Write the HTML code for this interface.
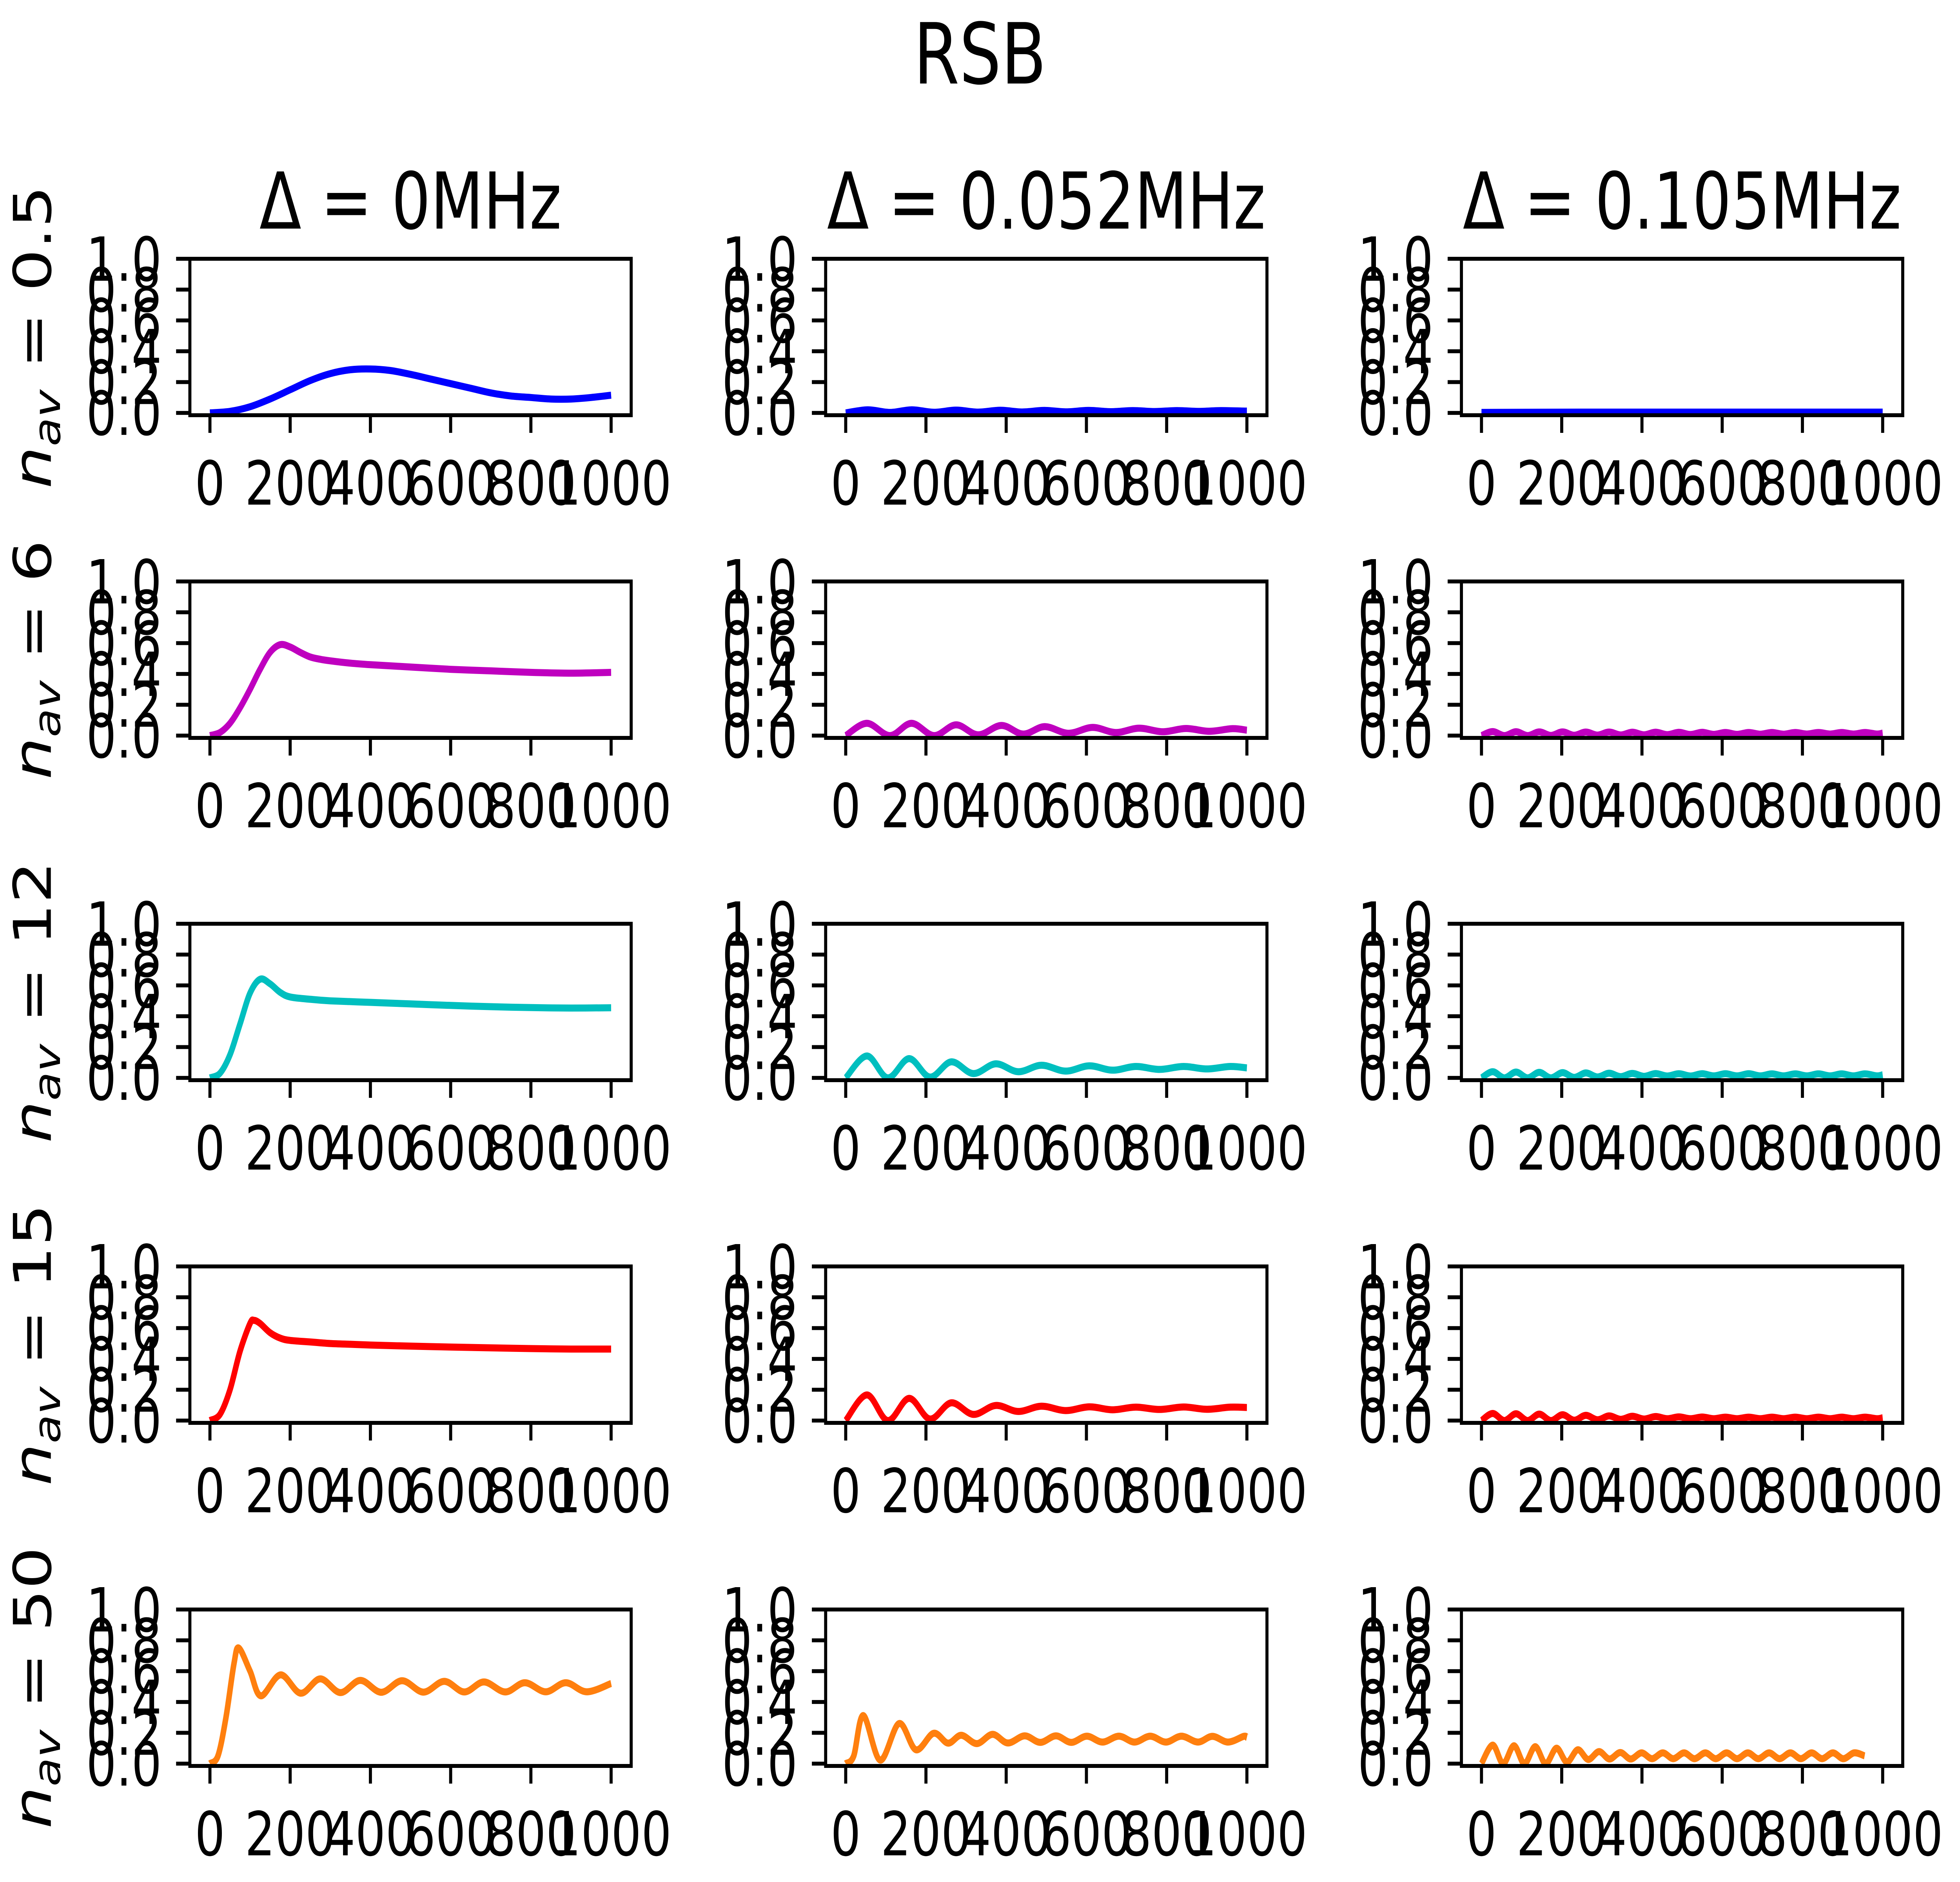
<!DOCTYPE html>
<html>
<head>
<meta charset="utf-8">
<style>
  html, body { margin: 0; padding: 0; background: #ffffff; overflow: hidden; width: 100%; height: 100%; }
  svg { display: block; width: 100vw; height: 100vh; }
  text { font-family: "DejaVu Sans", "Liberation Sans", sans-serif; fill: #000; }
</style>
</head>
<body>
<svg id="fig" xmlns="http://www.w3.org/2000/svg" viewBox="0 0 6400 4800" preserveAspectRatio="none">
  <rect x="0" y="0" width="6400" height="4800" fill="#ffffff"/>
  <text x="3200" y="213" font-size="215" text-anchor="middle">RSB</text>
  <g id="panels"></g>
</svg>
<script>
// ---- chart data ----
const xTicks = [0, 200, 400, 600, 800, 1000];
const xTickLabels = ["0", "200", "400", "600", "800", "1000"];
const yTicks = [0, 0.2, 0.4, 0.6, 0.8, 1.0];
const yTickLabels = ["0.0", "0.2", "0.4", "0.6", "0.8", "1.0"];
const colTitles = ["0MHz", "0.052MHz", "0.105MHz"];
const rowLabels = ["0.5", "6", "12", "15", "50"];
const rowColors = ["#0000ff", "#bf00bf", "#00bfbf", "#ff0000", "#ff7f0e"];

// row 1 (n_av = 0.5)
const r1c1X = [0,50,100,150,200,250,300,350,400,450,500,550,600,650,700,750,800,850,900,950,1000];
const r1c1Y = [0,0.01,0.04,0.09,0.15,0.21,0.255,0.28,0.285,0.275,0.25,0.22,0.19,0.16,0.13,0.11,0.10,0.09,0.09,0.10,0.115];
const r1c2X = [0,55,110,165,220,275,330,385,440,495,550,605,660,715,770,825,880,935,990,1000];
const r1c2Y = [0,0.02,0.003,0.02,0.004,0.018,0.005,0.017,0.006,0.016,0.007,0.016,0.008,0.015,0.009,0.015,0.01,0.015,0.012,0.012];
const r1c3X = [0,250,500,750,1000];
const r1c3Y = [0.003,0.005,0.005,0.005,0.005];

// row 2 (n_av = 6)
const r2c1X = [0,25,50,75,100,125,150,175,200,225,250,275,300,350,400,500,600,700,800,900,1000];
const r2c1Y = [0,0.02,0.08,0.18,0.30,0.43,0.54,0.59,0.575,0.54,0.51,0.495,0.485,0.47,0.46,0.445,0.43,0.42,0.41,0.405,0.41];
const r2c2X = [0,53,110,164,220,275,330,388,442,496,555,615,673,731,790,848,906,964,1000];
const r2c2Y = [0,0.08,0.0,0.08,0.0,0.07,0.005,0.066,0.01,0.058,0.015,0.053,0.02,0.048,0.025,0.046,0.028,0.045,0.035];
const r2c3X = [0,28,57,86,115,144,173,202,231,260,289,318,347,376,405,434,463,492,521,550,579,608,637,666,695,724,753,782,811,840,869,898,927,956,985,1000];
const r2c3Y = [0,0.026, 0,0.025, 0,0.024, 0.001,0.024, 0.002,0.023, 0.003,0.023, 0.004,0.022, 0.005,0.022, 0.006,0.021, 0.007,0.021, 0.008,0.02, 0.008,0.02, 0.009,0.02, 0.009,0.02, 0.01,0.02, 0.01,0.02, 0.01,0.02, 0.01,0.016];

// row 3 (n_av = 12)
const r3c1X = [0,25,50,75,100,125,150,175,200,250,300,400,500,600,700,800,900,1000];
const r3c1Y = [0,0.03,0.15,0.35,0.55,0.64,0.61,0.555,0.525,0.51,0.50,0.49,0.48,0.47,0.462,0.456,0.453,0.455];
const r3c2X = [0,53,105,158,210,263,318,374,430,488,548,607,665,723,782,842,900,958,1000];
const r3c2Y = [0,0.142,0.0,0.125,0.005,0.104,0.028,0.091,0.04,0.082,0.044,0.078,0.05,0.074,0.055,0.074,0.058,0.074,0.065];
const r3c3X = [0,28,57,86,115,144,173,202,231,260,289,318,347,376,405,434,463,492,521,550,579,608,637,666,695,724,753,782,811,840,869,898,927,956,985,1000];
const r3c3Y = [0,0.04, 0,0.038, 0,0.036, 0,0.034, 0.003,0.032, 0.006,0.03, 0.008,0.029, 0.01,0.028, 0.012,0.027, 0.012,0.027, 0.013,0.027, 0.013,0.027, 0.013,0.026, 0.013,0.026, 0.013,0.026, 0.013,0.026, 0.013,0.026, 0.013,0.02];

// row 4 (n_av = 15)
const r4c1X = [0,25,50,75,100,110,125,150,175,200,250,300,350,400,500,600,700,800,900,1000];
const r4c1Y = [0,0.04,0.2,0.45,0.63,0.65,0.63,0.57,0.535,0.52,0.51,0.50,0.495,0.49,0.483,0.477,0.472,0.467,0.464,0.464];
const r4c2X = [0,53,105,158,210,263,318,374,430,488,548,607,665,723,782,842,900,958,1000];
const r4c2Y = [0,0.166,0.0,0.144,0.01,0.115,0.04,0.098,0.059,0.093,0.065,0.089,0.07,0.087,0.072,0.088,0.073,0.087,0.085];
const r4c3X = [0,28,57,86,115,144,173,202,231,260,289,318,347,376,405,434,463,492,521,550,579,608,637,666,695,724,753,782,811,840,869,898,927,956,985,1000];
const r4c3Y = [0,0.046, 0,0.044, 0,0.042, 0,0.038, 0.002,0.034, 0.005,0.03, 0.008,0.028, 0.01,0.026, 0.012,0.024, 0.012,0.023, 0.012,0.022, 0.012,0.022, 0.012,0.022, 0.012,0.022, 0.012,0.022, 0.012,0.022, 0.012,0.022, 0.012,0.018];

// row 5 (n_av = 50)
const r5c1X = [0,20,40,60,72,100,127,176,226,275,325,375,427,479,532,584,634,683,736,785,837,887,939,1000];
const r5c1Y = [0,0.05,0.3,0.65,0.75,0.6,0.44,0.576,0.457,0.55,0.461,0.54,0.463,0.538,0.464,0.534,0.465,0.53,0.465,0.525,0.466,0.525,0.466,0.52];
const r5c2X = [0,20,44,86,133,175,219,255,288,327,366,404,446,485,524,562,601,640,681,720,759,798,837,878,914,953,992,1000];
const r5c2Y = [0,0.05,0.312,0.023,0.26,0.09,0.197,0.133,0.184,0.13,0.19,0.134,0.18,0.138,0.18,0.138,0.178,0.14,0.178,0.14,0.178,0.14,0.178,0.14,0.177,0.14,0.177,0.17];
const r5c3X = [0,28,54,81,107,134,160,187,213,240,266,293,319,346,372,399,425,452,478,505,531,558,584,611,637,664,690,717,743,770,796,823,849,876,902,929,955,982,1000];
const r5c3Y = [0,0.12, 0,0.116, 0,0.11, 0,0.10, 0.01,0.09, 0.027,0.078, 0.03,0.072, 0.03,0.07, 0.032,0.07, 0.032,0.07, 0.032,0.07, 0.032,0.07, 0.032,0.07, 0.032,0.07, 0.032,0.07, 0.032,0.07, 0.032,0.07, 0.032,0.07, 0.05];

const seriesX = [[r1c1X,r1c2X,r1c3X],[r2c1X,r2c2X,r2c3X],[r3c1X,r3c2X,r3c3X],[r4c1X,r4c2X,r4c3X],[r5c1X,r5c2X,r5c3X]];
const seriesY = [[r1c1Y,r1c2Y,r1c3Y],[r2c1Y,r2c2Y,r2c3Y],[r3c1Y,r3c2Y,r3c3Y],[r4c1Y,r4c2Y,r4c3Y],[r5c1Y,r5c2Y,r5c3Y]];

// ---- layout ----
const NS = "http://www.w3.org/2000/svg";
const rowTops = [660, 1483, 2356, 3230, 4105];
const colLefts = [620, 2696, 4772];
const AX_W = 1441, AX_H = 399;
const X_MIN = -50, X_MAX = 1050, Y_MIN = -0.015, Y_MAX = 1.0;

function xScale(left, v) { return left + (v - X_MIN) / (X_MAX - X_MIN) * AX_W; }
function yScale(top, v) { return top + (Y_MAX - v) / (Y_MAX - Y_MIN) * AX_H; }

function mk(tag, attrs) {
  const e = document.createElementNS(NS, tag);
  for (const k in attrs) e.setAttribute(k, attrs[k]);
  return e;
}

function smoothPath(pts) {
  if (pts.length < 2) return "";
  let d = "M" + pts[0][0].toFixed(1) + "," + pts[0][1].toFixed(1);
  for (let i = 0; i < pts.length - 1; i++) {
    const p0 = pts[i - 1] || pts[i], p1 = pts[i], p2 = pts[i + 1], p3 = pts[i + 2] || pts[i + 1];
    const c1x = p1[0] + (p2[0] - p0[0]) / 6, c1y = p1[1] + (p2[1] - p0[1]) / 6;
    const c2x = p2[0] - (p3[0] - p1[0]) / 6, c2y = p2[1] - (p3[1] - p1[1]) / 6;
    d += " C" + c1x.toFixed(1) + "," + c1y.toFixed(1) + " " + c2x.toFixed(1) + "," + c2y.toFixed(1) + " " + p2[0].toFixed(1) + "," + p2[1].toFixed(1);
  }
  return d;
}

const root = document.getElementById("panels");

for (let r = 0; r < 5; r++) {
  for (let c = 0; c < 3; c++) {
    const left = colLefts[c], top = rowTops[r], bottom = top + AX_H;
    const g = mk("g", {});
    
    
    root.appendChild(g);

    const xs = seriesX[r][c], ys = seriesY[r][c];
    const n = Math.min(xs.length, ys.length);
    const pts = [];
    for (let i = 0; i < n; i++) pts.push([xScale(left, xs[i]), yScale(top, ys[i])]);
    const line = mk("path", { d: smoothPath(pts), fill: "none", stroke: rowColors[r], "stroke-width": 18, "stroke-linejoin": "round", "stroke-linecap": "butt" });
    
    
    g.appendChild(line);

    const frame = mk("rect", { x: left, y: top, width: AX_W, height: AX_H, fill: "none", stroke: "#000", "stroke-width": 10 });
    
    
    g.appendChild(frame);

    for (let i = 0; i < xTicks.length; i++) {
      const px = xScale(left, xTicks[i]);
      const t = mk("line", { x1: px, y1: bottom, x2: px, y2: bottom + 45, stroke: "#000", "stroke-width": 10 });
      
      
      g.appendChild(t);
      const lb = mk("text", { x: px, y: bottom + 228, "font-size": 155, "text-anchor": "middle" });
      lb.textContent = xTickLabels[i];
      
      
      g.appendChild(lb);
    }
    for (let i = 0; i < yTicks.length; i++) {
      const py = yScale(top, yTicks[i]);
      const t = mk("line", { x1: left - 45, y1: py, x2: left, y2: py, stroke: "#000", "stroke-width": 10 });
      
      
      g.appendChild(t);
      const lb = mk("text", { x: left - 92, y: py + 56, "font-size": 155, "text-anchor": "end" });
      lb.textContent = yTickLabels[i];
      
      
      g.appendChild(lb);
    }

    if (r === 0) {
      const tt = mk("text", { x: left + AX_W / 2, y: top - 77, "font-size": 200, "text-anchor": "middle" });
      tt.textContent = "\u0394 = " + colTitles[c];
      
      
      g.appendChild(tt);
    }
    if (c === 0) {
      const cy = top + AX_H / 2;
      const yl = mk("text", { x: 0, y: 0, "font-size": 170, "text-anchor": "middle", transform: "translate(166," + cy + ") rotate(-90)" });
      
      
      const s1 = mk("tspan", { "font-style": "italic" });
      s1.textContent = "n";
      const s2 = mk("tspan", { "font-style": "italic", "font-size": 120, dy: 30 });
      s2.textContent = "av";
      const s3 = mk("tspan", { dy: -30 });
      s3.textContent = " = " + rowLabels[r];
      yl.appendChild(s1); yl.appendChild(s2); yl.appendChild(s3);
      g.appendChild(yl);
    }
  }
}
</script>
</body>
</html>
